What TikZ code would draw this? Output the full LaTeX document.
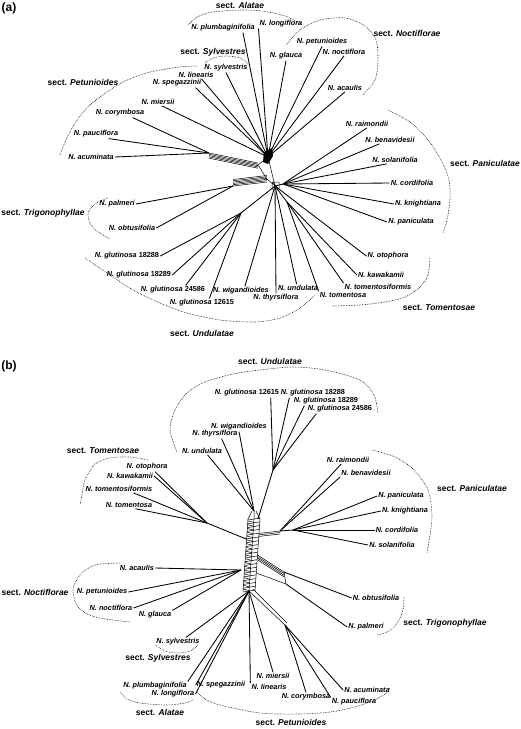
\documentclass[tikz,border=0pt]{standalone}
\usepackage{fontspec}
\setmainfont{Liberation Sans}
\usetikzlibrary{calc}

\begin{document}
\begin{tikzpicture}[
  x=1pt, y=-1pt,
  sp/.style={font=\fontsize{7.3}{8}\selectfont\bfseries\itshape, inner sep=1pt},
  sect/.style={font=\fontsize{8.5}{10}\selectfont\bfseries, inner sep=0pt},
  panel/.style={font=\fontsize{12}{14}\selectfont\bfseries, inner sep=0pt},
  edge/.style={line width=0.85pt},
  web/.style={line width=0.5pt},
  grp/.style={densely dotted, line width=0.6pt},
]
\useasboundingbox (0,0) rectangle (520,729);

% ---------------- panel (a) ----------------
\node[panel] (pa) at (9,8) {(a)};

\coordinate (aT) at (268,157);
\coordinate (aL) at (209,153);
\coordinate (aK) at (258,165);
\coordinate (aP) at (233,186);
\coordinate (aQ) at (267,179);
\coordinate (aD) at (275,186);
\coordinate (aR) at (283,184);
\coordinate (aE) at (287,202);
\coordinate (aG) at (241,213);

\node[sp] (aPlb) at (223,28) {N. plumbaginifolia};
\node[sp] (aLgf) at (281,24) {N. longiflora};
\node[sp] (aSlv) at (226,68) {N. sylvestris};
\node[sp] (aLin) at (196,75) {N. linearis};
\node[sp] (aSpg) at (177,83) {N. spegazzinii};
\node[sp] (aMrs) at (158,102) {N. miersii};
\node[sp] (aCrm) at (120,113) {N. corymbosa};
\node[sp] (aPcf) at (96,134) {N. pauciflora};
\node[sp] (aAcm) at (91,157) {N. acuminata};
\node[sp] (aGlc) at (286,56) {N. glauca};
\node[sp] (aPtn) at (322,42) {N. petunioides};
\node[sp] (aNct) at (344,52) {N. noctiflora};
\node[sp] (aAcl) at (345,88) {N. acaulis};
\node[sp] (aRai) at (367,124) {N. raimondii};
\node[sp] (aBen) at (390,140) {N. benavidesii};
\node[sp] (aSol) at (395,160) {N. solanifolia};
\node[sp] (aCor) at (412,183) {N. cordifolia};
\node[sp] (aKni) at (418,204) {N. knightiana};
\node[sp] (aPan) at (411,222) {N. paniculata};
\node[sp] (aOto) at (388,256) {N. otophora};
\node[sp] (aKaw) at (381,275) {N. kawakamii};
\node[sp] (aTmf) at (378,287) {N. tomentosiformis};
\node[sp] (aTom) at (343,295) {N. tomentosa};
\node[sp] (aUnd) at (298,288) {N. undulata};
\node[sp] (aThy) at (276,298) {N. thyrsiflora};
\node[sp] (aWig) at (241,291) {N. wigandioides};
\node[sp] (aG1) at (127,256) {N. glutinosa \textup{18288}};
\node[sp] (aG2) at (139,275) {N. glutinosa \textup{18289}};
\node[sp] (aG3) at (173,290) {N. glutinosa \textup{24586}};
\node[sp] (aG4) at (202,303) {N. glutinosa \textup{12615}};
\node[sp] (aPlm) at (117,204) {N. palmeri};
\node[sp] (aObt) at (132,228) {N. obtusifolia};

\foreach \h/\s in {aT/aPlb.-13, aT/aLgf.south west, aT/aSlv.south, aT/aLin.-35,
    aT/aSpg.-14, aT/aMrs.-45, aT/aGlc.south, aT/aPtn.south, aT/aNct.south, aT/aAcl.south,
    aL/aAcm.east, aL/aPcf.-20, aL/aCrm.-20, aP/aPlm.east, aP/aObt.east,
    aG/aG1.east, aG/aG2.east, aG/aG3.20, aG/aG4.32,
    aD/aWig.50, aD/aThy.north, aD/aUnd.110, aD/aOto.west,
    aE/aTom.north west, aE/aTmf.north west, aE/aKaw.west,
    aR/aRai.south, aR/aBen.200, aR/aSol.205, aR/aCor.west, aR/aKni.west, aR/aPan.west}
  \draw[edge] (\h) -- (\s);

% splits near the centre
\foreach \k in {0,...,4}
  \draw[web] ($(aL)+(0,\k*1.3)$) -- ($(aK)+(0,\k*1.3-2)$);
\foreach \k in {0,...,5}
  \draw[web] ($(aP)+(0,-\k*1.3)$) -- ($(aQ)+(0,-\k*1.3+3)$);
\draw[web] (aT) -- (aK) -- (aQ) -- (aD) -- (aT);
\draw[edge] (aD) -- (aR) (aD) -- (aE) (aD) -- (aG);
\fill (264,152) -- (272,148) -- (273,156) -- (268,164) -- (263,162) -- cycle;
\draw[web] (272,182) rectangle (279,189) (272,182) -- (279,189);

% sections
\node[sect] (aSAla) at (240,5) {sect. \textit{Alatae}};
\node[sect] (aSSyl) at (213,52) {sect. \textit{Sylvestres}};
\node[sect] (aSPet) at (83,82) {sect. \textit{Petunioides}};
\node[sect] (aSNoc) at (407,33) {sect. \textit{Noctiflorae}};
\node[sect] (aSPan) at (485,163) {sect. \textit{Paniculatae}};
\node[sect] (aSTri) at (43,213) {sect. \textit{Trigonophyllae}};
\node[sect] (aSUnd) at (202,333) {sect. \textit{Undulatae}};
\node[sect] (aSTom) at (439,308) {sect. \textit{Tomentosae}};

\draw[grp] plot[smooth] coordinates {(188,25) (197,17) (213,12) (240,10) (262,11) (285,16) (303,25)};
\draw[grp] plot[smooth] coordinates {(205,63) (213,58) (226,56) (240,58) (248,64)};
\draw[grp] plot[smooth] coordinates {(60,155) (66,140) (75,123) (90,105) (110,90) (125,81) (150,72) (180,67) (197,66)};
\draw[grp] plot[smooth] coordinates {(286,45) (300,30) (320,20) (345,18) (365,26) (376,40) (378,60) (375,80) (363,95)};
\draw[grp] plot[smooth] coordinates {(388,110) (410,122) (428,140) (441,160) (449,180) (450,200) (447,220) (443,233)};
\draw[grp] plot[smooth] coordinates {(108,198) (95,204) (88,214) (93,228) (110,239)};
\draw[grp] plot[smooth] coordinates {(85,258) (110,275) (133,290) (160,303) (187,313) (220,320) (255,322) (280,318) (300,308) (315,295)};
\draw[grp] plot[smooth] coordinates {(430,258) (428,275) (420,287) (405,297) (385,302) (360,305) (332,306)};

% ---------------- panel (b) ----------------
\node[panel] (pb) at (9,366) {(b)};

\coordinate (bU) at (254,511);
\coordinate (bG) at (273,470);
\coordinate (bM) at (207,523);
\coordinate (bR) at (280,531);
\coordinate (bS) at (293,530);
\coordinate (bN) at (241,570);
\coordinate (bX) at (284,572);
\coordinate (bY) at (286,584);
\coordinate (bCt) at (254,519);
\coordinate (bB) at (249,591);
\coordinate (bP) at (285,625);

\node[sp] (bOto) at (147,467) {N. otophora};
\node[sp] (bKaw) at (130,476) {N. kawakamii};
\node[sp] (bTmf) at (119,489) {N. tomentosiformis};
\node[sp] (bTom) at (129,505) {N. tomentosa};
\node[sp] (bUnd) at (202,451) {N. undulata};
\node[sp] (bThy) at (215,434) {N. thyrsiflora};
\node[sp] (bWig) at (239,427) {N. wigandioides};
\node[sp] (bG4) at (247,393) {N. glutinosa \textup{12615}};
\node[sp] (bG1) at (313,393) {N. glutinosa \textup{18288}};
\node[sp] (bG2) at (326,401) {N. glutinosa \textup{18289}};
\node[sp] (bG3) at (340,409) {N. glutinosa \textup{24586}};
\node[sp] (bRai) at (348,460) {N. raimondii};
\node[sp] (bBen) at (366,473) {N. benavidesii};
\node[sp] (bPan) at (401,496) {N. paniculata};
\node[sp] (bKni) at (405,511) {N. knightiana};
\node[sp] (bCor) at (397,530) {N. cordifolia};
\node[sp] (bSol) at (392,545) {N. solanifolia};
\node[sp] (bObt) at (376,598) {N. obtusifolia};
\node[sp] (bPlm) at (366,627) {N. palmeri};
\node[sp] (bAcl) at (137,568) {N. acaulis};
\node[sp] (bPtn) at (102,592) {N. petunioides};
\node[sp] (bNct) at (111,608) {N. noctiflora};
\node[sp] (bGlc) at (155,615) {N. glauca};
\node[sp] (bSlv) at (178,642) {N. sylvestris};
\node[sp] (bPlb) at (155,686) {N. plumbaginifolia};
\node[sp] (bLgf) at (173,694) {N. longiflora};
\node[sp] (bSpg) at (221,685) {N. spegazzinii};
\node[sp] (bLin) at (269,687) {N. linearis};
\node[sp] (bMrs) at (273,676) {N. miersii};
\node[sp] (bCrm) at (306,697) {N. corymbosa};
\node[sp] (bPcf) at (354,702) {N. pauciflora};
\node[sp] (bAcm) at (367,690) {N. acuminata};

\foreach \h/\s in {bM/bOto.-30, bM/bKaw.east, bM/bTmf.-15, bM/bTom.-30,
    bU/bUnd.-35, bU/bThy.-35, bU/bWig.south,
    bG/bG4.-11, bG/bG1.-169, bG/bG2.-168, bG/bG3.-169,
    bR/bRai.-150, bR/bBen.south west,
    bS/bPan.west, bS/bKni.west, bS/bCor.west, bS/bSol.west,
    bX/bObt.west, bY/bPlm.west,
    bN/bAcl.east, bN/bPtn.east, bN/bNct.east, bN/bGlc.north east,
    bB/bSlv.30, bB/bPlb.north east, bB/bLgf.east, bB/bSpg.west, bB/bLin.north west, bB/bMrs.north,
    bP/bCrm.north, bP/bPcf.north west, bP/bAcm.west}
  \draw[edge] (\h) -- (\s);

% the central web
\foreach \s in {-6,0,6}
  \draw[web] ($(bCt)+(\s,0)$) -- ($(bB)+(\s,0)$);
\foreach \k in {0,...,19}
  \draw[web] ($(bCt)!\k/19!(bB)+(-6,1)$) -- ($(bCt)!\k/19!(bB)+(6,-1)$);
\foreach \k in {0,...,18}
  \draw[web] ($(bCt)!\k/19+0.026!(bB)+(-6,0)$) -- ($(bCt)!\k/19+0.026!(bB)+(0,1.5)$);
\draw[web] (bU) -- (bCt) ($(bU)+(-2,0)$) -- ($(bCt)+(-6,0)$) ($(bU)+(2,0)$) -- ($(bCt)+(6,0)$);
\draw[edge] (bG) -- ($(bCt)+(4,0)$);
\draw[edge] (bM) -- ($(bCt)!0.28!(bB)+(-6,0)$);
\foreach \k in {0,1,2}
  \draw[web] ($(bCt)!0.2!(bB)+(6,\k*1.5)$) -- ($(bR)+(0,\k*1.5)$);
\draw[edge] (bR) -- (bS);
\foreach \k in {0,...,3}
  \draw[web] ($(bCt)!0.5!(bB)+(6,\k*1.6)$) -- ($(bX)+(0,\k*1.6)$);
\draw[web] (bX) -- (bY) ($(bCt)!0.75!(bB)+(6,0)$) -- (bY);
\draw[web] (bB) -- (bP) ($(bB)+(4,-2)$) -- ($(bP)+(2,-2)$);

% sections
\node[sect] (bSUnd) at (270,361) {sect. \textit{Undulatae}};
\node[sect] (bSTom) at (103,451) {sect. \textit{Tomentosae}};
\node[sect] (bSPan) at (472,488) {sect. \textit{Paniculatae}};
\node[sect] (bSNoc) at (35,592) {sect. \textit{Noctiflorae}};
\node[sect] (bSSyl) at (158,658) {sect. \textit{Sylvestres}};
\node[sect] (bSAla) at (160,712) {sect. \textit{Alatae}};
\node[sect] (bSPet) at (291,722) {sect. \textit{Petunioides}};
\node[sect] (bSTri) at (445,623) {sect. \textit{Trigonophyllae}};

\draw[grp] plot[smooth] coordinates {(177,452) (170,430) (175,410) (187,393) (205,382) (233,374) (260,370) (293,367) (325,370) (360,380) (374,395) (378,413)};
\draw[grp] plot[smooth] coordinates {(148,460) (130,457) (110,458) (95,464) (85,480) (82,495) (80,505)};
\draw[grp] plot[smooth] coordinates {(372,450) (395,457) (414,470) (428,490) (432,515) (430,535) (427,553)};
\draw[grp] plot[smooth] coordinates {(120,563) (95,565) (80,575) (73,590) (78,607) (95,617) (130,622)};
\draw[grp] plot[smooth] coordinates {(155,645) (165,651) (177,653) (190,651) (198,645)};
\draw[grp] plot[smooth] coordinates {(120,692) (127,699) (140,703) (167,705) (185,703) (193,700)};
\draw[grp] plot[smooth] coordinates {(197,692) (205,699) (220,705) (260,713) (300,714) (330,712) (355,707) (372,701) (385,694) (390,688)};
\draw[grp] plot[smooth] coordinates {(404,597) (403,610) (399,620) (393,628) (385,633) (377,635)};
\end{tikzpicture}
\end{document}
